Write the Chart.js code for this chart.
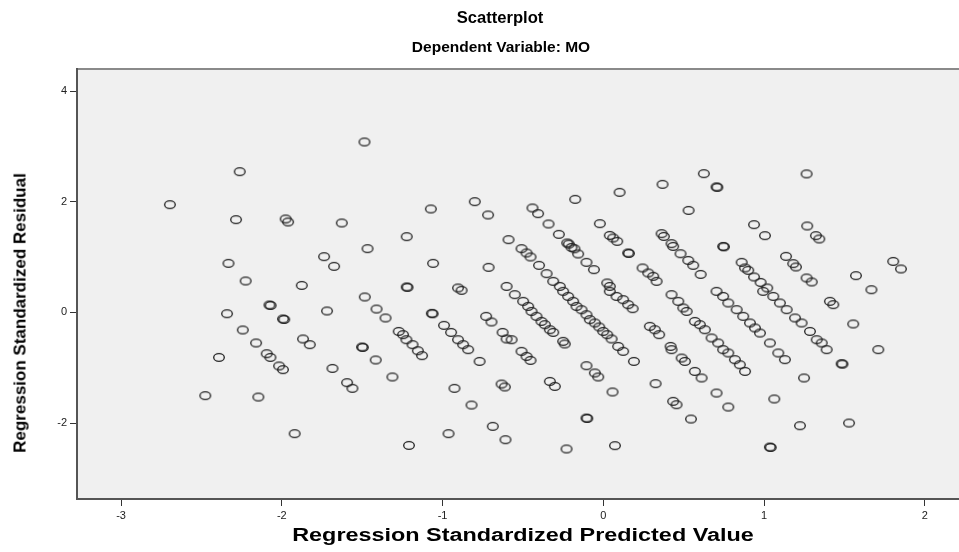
<!DOCTYPE html>
<html>
<head>
<meta charset="utf-8">
<title>Scatterplot</title>
<script src="https://cdn.jsdelivr.net/npm/chart.js@4.4.1/dist/chart.umd.min.js"></script>
<style>
    html, body { margin: 0; background: #fff; overflow: hidden; }
    #wrap { position: relative; width: 959px; height: 552px; overflow: hidden; }
    #wrap canvas { position: absolute; left: 0; top: 0; }
    .t {
        position: absolute;
        font-family: "Liberation Sans", Arial, sans-serif;
        font-weight: bold;
        color: #000;
        white-space: nowrap;
        line-height: 1;
        transform: translate(-50%, -50%);
    }
    #title1 { left: 500px; top: 18px; font-size: 16.6px; }
    #title2 { left: 501px; top: 47px; font-size: 15.5px; }
    #xtitle { left: 523px; top: 535px; font-size: 18px; transform: translate(-50%, -50%) scaleX(1.3); }
    #ytitle { left: 20px; top: 313px; font-size: 17px; transform: translate(-50%, -50%) rotate(-90deg); }
</style>
</head>
<body>
<div id="wrap">
    <canvas id="scatter"></canvas>
    <div class="t" id="title1">Scatterplot</div>
    <div class="t" id="title2">Dependent Variable: MO</div>
    <div class="t" id="xtitle">Regression Standardized Predicted Value</div>
    <div class="t" id="ytitle">Regression Standardized Residual</div>
</div>
<script>
// values
var predicted = [
    -2.696, -2.262, -2.285, -1.976, -1.961, -2.332, -2.225, -2.077, -2.070, -2.341,
    -1.993, -1.985, -2.243, -2.160, -2.094, -2.071, -2.017, -1.993, -2.391, -2.476,
    -2.146, -1.920, -1.486, -1.627, -1.073, -0.800, -0.717, -1.223, -1.467, -1.737,
    -1.675, -1.059, -0.714, -0.590, -1.876, -1.223, -1.218, -0.904, -0.882, -0.602,
    -1.484, -1.719, -1.411, -1.355, -1.067, -1.062, -1.868, -1.826, -1.501, -1.496,
    -1.416, -1.685, -1.594, -1.561, -1.312, -1.209, -0.963, -0.926, -0.820, -0.688,
    -0.609, -0.633, -0.613, -1.273, -1.246, -1.225, -1.187, -1.154, -1.128, -0.991,
    -0.947, -0.904, -0.872, -0.841, -0.770, -0.729, -0.696, -0.627, -0.602, 0.625,
    0.704, 0.709, 0.368, 0.101, -0.175, 0.530, -0.441, -0.406, -0.341, -0.277,
    -0.225, -0.215, -0.198, -0.180, -0.157, -0.105, -0.059, -0.509, -0.478, -0.453,
    -0.400, -0.353, -0.312, -0.271, -0.022, 0.040, 0.061, 0.086, 0.154, 0.159,
    0.244, 0.279, 0.310, 0.331, 0.362, 0.376, 0.424, 0.434, 0.480, 0.528,
    0.559, 0.605, 0.745, 0.750, 0.024, 0.040, 1.264, 0.937, 1.005, 1.268,
    1.322, 1.343, 1.136, 1.181, 1.198, 1.264, 1.296, 1.571, 1.803, 1.851,
    0.860, 0.881, 0.901, 0.937, 0.978, 1.019, 1.667, -0.551, -0.499, -0.468,
    -0.447, -0.416, -0.385, -0.364, -0.333, -0.312, -0.571, -0.509, -0.478, -0.453,
    -0.250, -0.240, -0.333, -0.302, -0.229, -0.250, -0.219, -0.188, -0.167, -0.136,
    -0.105, -0.084, -0.053, -0.026, -0.001, 0.024, 0.051, 0.092, 0.123, 0.190,
    -0.105, -0.053, -0.032, 0.057, -0.105, -0.100, 0.072, 0.040, 0.082, 0.123,
    0.154, 0.182, 0.289, 0.320, 0.347, 0.418, 0.424, 0.487, 0.507, 0.325,
    0.434, 0.455, 0.545, 0.569, 0.611, 0.704, 0.777, 0.424, 0.466, 0.497,
    0.518, 0.569, 0.600, 0.631, 0.673, 0.714, 0.745, 0.777, 0.704, 0.745,
    0.777, 0.829, 0.870, 0.912, 0.943, 0.974, 0.818, 0.849, 0.881, 1.036,
    1.088, 1.129, 1.063, 1.223, 1.036, 1.041, 1.248, 1.528, 1.482, 1.487,
    0.994, 1.057, 1.098, 1.140, 1.192, 1.233, 1.285, 1.327, 1.358, 1.389,
    1.409, 1.430, 1.554, 1.710
];

var residual = [
    1.948, 2.544, 1.676, 1.689, 1.635, 0.886, 0.568, 0.134, 0.125, -0.024,
    -0.119, -0.128, -0.318, -0.553, -0.747, -0.814, -0.969, -1.036, -0.814, -1.506,
    -1.530, -2.193, 3.081, 1.616, 1.870, 2.002, 1.761, 1.369, 1.152, 1.007,
    0.832, 0.886, 0.814, 1.315, 0.488, 0.459, 0.452, 0.441, 0.398, 0.470,
    0.278, 0.025, 0.061, -0.101, -0.018, -0.025, -0.481, -0.584, -0.626, -0.633,
    -0.861, -1.013, -1.271, -1.374, -1.168, -2.405, -2.193, -1.374, -1.675, -2.061,
    -2.302, -1.295, -1.349, -0.344, -0.403, -0.494, -0.584, -0.693, -0.783, -0.235,
    -0.362, -0.494, -0.584, -0.674, -0.886, -0.072, -0.174, -0.362, -0.481, 2.508,
    2.268, 2.260, 2.315, 2.170, 2.043, 1.844, 1.888, 1.785, 1.598, 1.411,
    1.255, 1.235, 1.175, 1.150, 1.056, 0.904, 0.772, 1.152, 1.074, 1.002,
    0.850, 0.700, 0.561, 0.470, 1.604, 1.392, 1.345, 1.284, 1.074, 1.066,
    0.803, 0.712, 0.651, 0.561, 1.423, 1.374, 1.242, 1.193, 1.061, 0.940,
    0.850, 0.687, 1.193, 1.185, 0.532, 0.470, 2.503, 1.586, 1.387, 1.562,
    1.387, 1.327, 1.013, 0.881, 0.821, 0.622, 0.550, 0.664, 0.922, 0.785,
    0.904, 0.803, 0.760, 0.640, 0.542, 0.441, 0.410, 0.320, 0.199, 0.108,
    0.018, -0.072, -0.163, -0.222, -0.313, -0.362, -0.494, -0.705, -0.796, -0.868,
    -0.524, -0.571, -1.248, -1.338, -2.470, 0.380, 0.289, 0.199, 0.108, 0.048,
    -0.042, -0.132, -0.192, -0.264, -0.344, -0.403, -0.481, -0.615, -0.705, -0.886,
    -0.964, -1.096, -1.168, -1.439, -1.910, -1.918, -2.410, 0.380, 0.289, 0.230,
    0.139, 0.067, -0.253, -0.313, -0.403, -0.615, -0.674, -0.825, -0.886, -1.289,
    -1.609, -1.669, -1.928, -1.067, -1.186, -1.458, -1.711, 0.320, 0.199, 0.080,
    0.018, -0.163, -0.222, -0.313, -0.463, -0.553, -0.674, -0.734, 0.380, 0.289,
    0.170, 0.049, -0.072, -0.192, -0.282, -0.373, -0.855, -0.946, -1.067, -0.553,
    -0.734, -0.855, -1.566, -2.049, -2.434, -2.442, -1.186, -2.000, -0.928, -0.935,
    0.380, 0.289, 0.170, 0.049, -0.101, -0.192, -0.344, -0.494, -0.553, -0.674,
    0.199, 0.139, -0.210, -0.674
];

var xTicks = [-3, -2, -1, 0, 1, 2];
var yTicks = [-2, 0, 2, 4];

var tickFont = {family: '"Liberation Sans", Arial, sans-serif', size: 11};

// hollow, slightly flattened ring like the SPSS marker
var ring = document.createElement('canvas');
ring.width = 14;
ring.height = 11;
var g = ring.getContext('2d');
g.strokeStyle = '#222';
g.lineWidth = 1.35;
g.beginPath();
g.ellipse(7, 5.5, 5.3, 3.9, 0, 0, Math.PI * 2);
g.stroke();

var points = [];
for (var i = 0; i < predicted.length; i++) {
    points.push({x: predicted[i], y: residual[i]});
}

var plotBg = {
    id: 'plotBg',
    beforeDraw: function (chart) {
        var a = chart.chartArea, ctx = chart.ctx;
        ctx.save();
        ctx.fillStyle = '#f0f0f0';
        ctx.fillRect(a.left, a.top, chart.width - a.left, a.bottom - a.top);
        ctx.strokeStyle = '#8a8a8a';
        ctx.lineWidth = 2;
        ctx.beginPath();
        ctx.moveTo(a.left, a.top);
        ctx.lineTo(chart.width, a.top);
        ctx.stroke();
        ctx.restore();
    }
};

new Chart(document.getElementById('scatter'), {
    type: 'scatter',
    data: {
        datasets: [{
            data: points,
            pointStyle: ring,
            pointRadius: 5,
            pointHoverRadius: 5
        }]
    },
    options: {
        responsive: true,
        maintainAspectRatio: false,
        animation: false,
        layout: {autoPadding: false, padding: {top: 69, left: 0, right: 0, bottom: 0}},
        plugins: {
            legend: {display: false},
            tooltip: {enabled: false}
        },
        scales: {
            x: {
                type: 'linear',
                min: -3.274,
                max: 2.212,
                afterFit: function (s) {
                    s.height = 53;
                    s.paddingLeft = 0;
                    s.paddingRight = 0;
                },
                afterBuildTicks: function (s) {
                    s.ticks = xTicks.map(function (v) { return {value: v}; });
                },
                grid: {drawOnChartArea: false, drawTicks: true, tickLength: 7, color: '#333'},
                border: {display: true, color: '#555', width: 2},
                ticks: {font: tickFont, color: '#222', padding: 3}
            },
            y: {
                type: 'linear',
                min: -3.374,
                max: 4.40,
                afterFit: function (s) {
                    s.width = 77;
                    s.paddingTop = 0;
                    s.paddingBottom = 0;
                },
                afterBuildTicks: function (s) {
                    s.ticks = yTicks.map(function (v) { return {value: v}; });
                },
                grid: {drawOnChartArea: false, drawTicks: true, tickLength: 7, color: '#333'},
                border: {display: true, color: '#555', width: 2},
                ticks: {font: tickFont, color: '#222', padding: 3}
            }
        }
    },
    plugins: [plotBg]
});
</script>
</body>
</html>
